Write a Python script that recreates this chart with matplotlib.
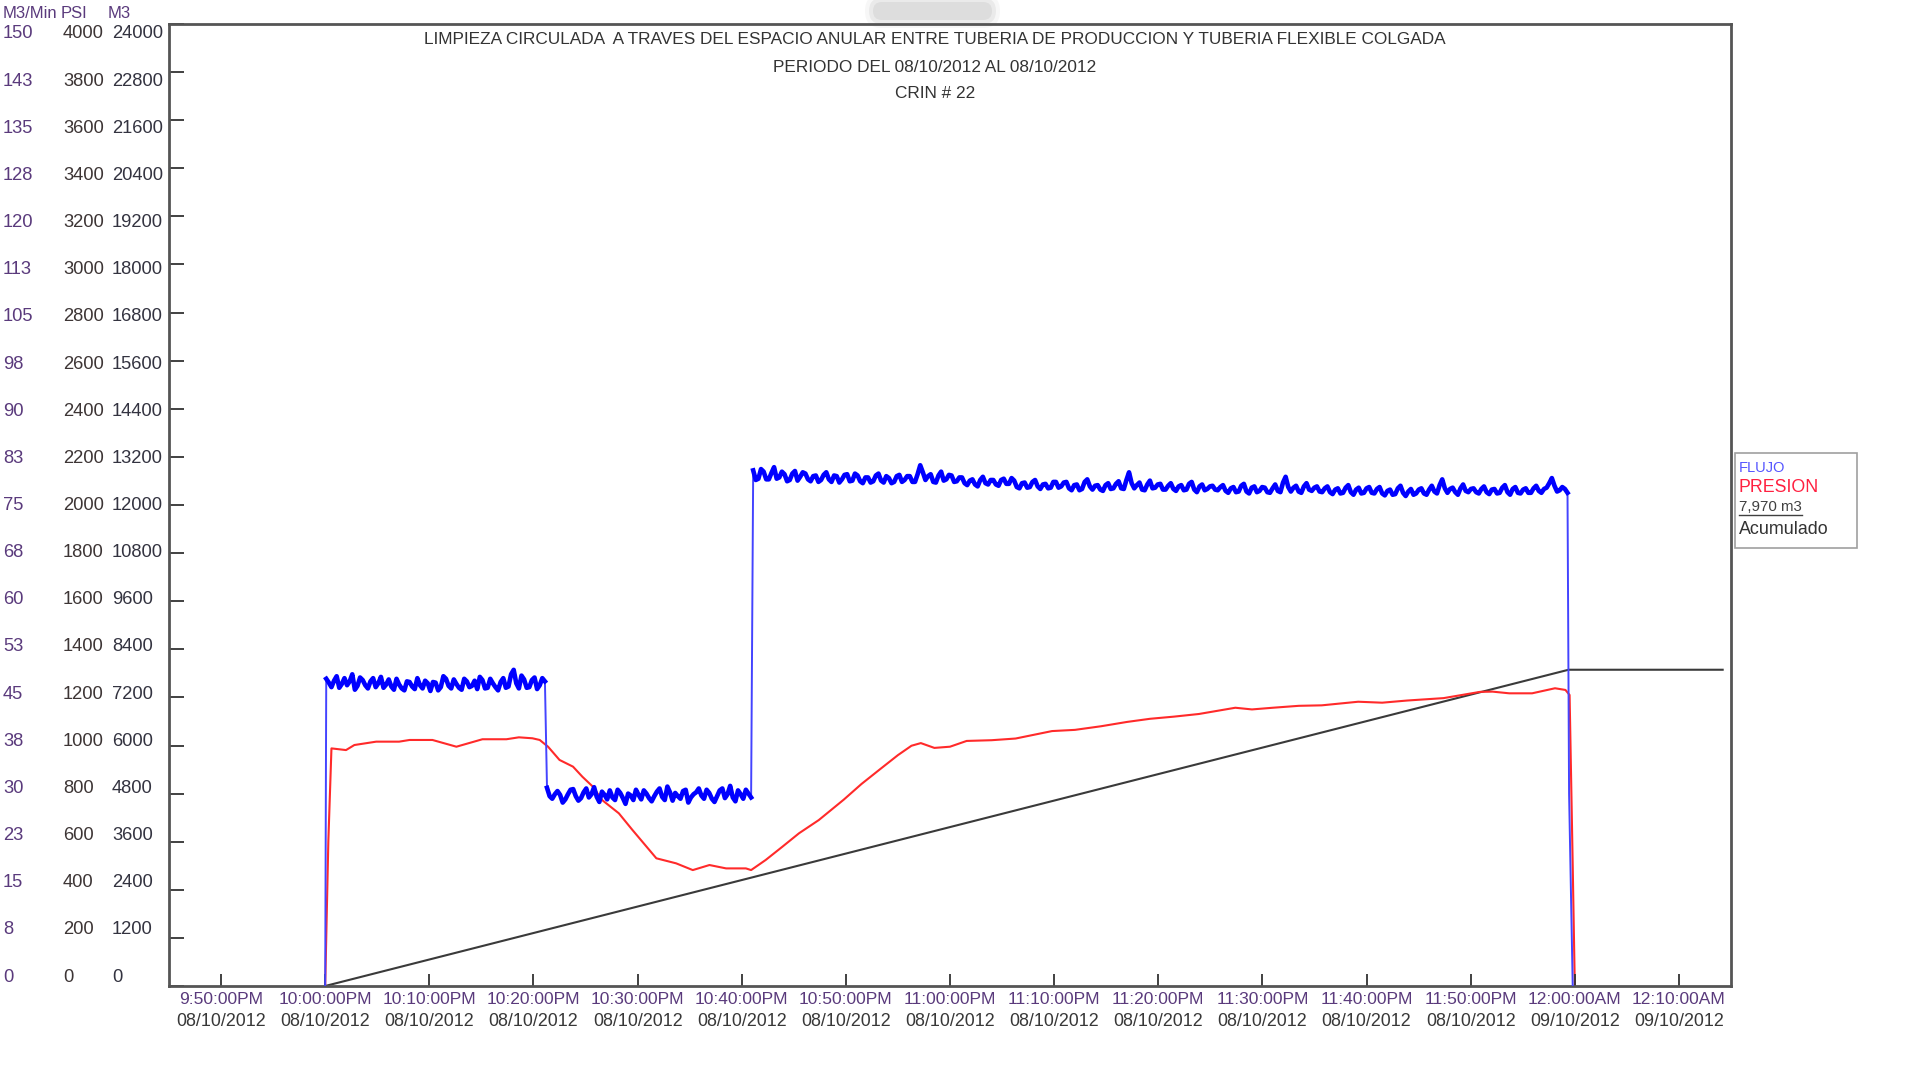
"""
Limpieza circulada - CRIN # 22: flujo, presion y volumen acumulado
"""
import numpy as np
import matplotlib
matplotlib.use('Agg')
import matplotlib.pyplot as plt
from matplotlib.patches import Rectangle, FancyBboxPatch
from matplotlib.lines import Line2D

plt.rcParams['font.family'] = ['Liberation Sans', 'DejaVu Sans']

# minutes after 10:00:00PM 08/10/2012
X_MIN = -15
X_MAX = 135

TITLE_LINES = ['LIMPIEZA CIRCULADA  A TRAVES DEL ESPACIO ANULAR ENTRE TUBERIA DE PRODUCCION Y TUBERIA FLEXIBLE COLGADA',
               'PERIODO DEL 08/10/2012 AL 08/10/2012',
               'CRIN # 22']

tick_minutes = [-10, 0, 10, 20, 30, 40, 50, 60, 70, 80, 90, 100, 110, 120, 130]
tick_times = ['9:50:00PM', '10:00:00PM', '10:10:00PM', '10:20:00PM', '10:30:00PM', '10:40:00PM',
              '10:50:00PM', '11:00:00PM', '11:10:00PM', '11:20:00PM', '11:30:00PM', '11:40:00PM',
              '11:50:00PM', '12:00:00AM', '12:10:00AM']
tick_dates = ['08/10/2012'] * 13 + ['09/10/2012'] * 2

flow_labels = ['0', '8', '15', '23', '30', '38', '45', '53', '60', '68', '75',
               '83', '90', '98', '105', '113', '120', '128', '135', '143', '150']
psi_labels = ['0', '200', '400', '600', '800', '1000', '1200', '1400', '1600', '1800', '2000',
              '2200', '2400', '2600', '2800', '3000', '3200', '3400', '3600', '3800', '4000']
m3_labels = ['0', '1200', '2400', '3600', '4800', '6000', '7200', '8400', '9600', '10800', '12000',
             '13200', '14400', '15600', '16800', '18000', '19200', '20400', '21600', '22800', '24000']

# FLUJO (M3/Min), read every 30 s on each plateau (+ the 15 s readings in between)
flow_seg1 = [47.9, 46.6, 48.3, 47.1, 46.9, 48.6, 46.8, 47.7, 46.4, 48.0, 47.2, 46.5, 47.8, 46.2,
             47.0, 46.1, 47.4, 46.3, 46.9, 47.6, 46.0, 47.3, 46.6, 47.9, 46.4, 47.1, 46.2, 47.5,
             46.8, 46.3, 47.7, 46.5, 47.2, 46.1, 48.0, 46.7, 49.3, 46.4, 47.8, 46.6, 48.1, 46.9, 47.5]
flow_seg1_mid = [47.3, 47.6, 46.5, 48.0, 47.5, 46.2, 48.1, 46.9, 47.5, 46.6, 48.2, 47.0, 46.7, 47.9,
                 46.4, 47.5, 46.7, 48.0, 46.4, 47.2, 47.4, 46.1, 48.3, 46.8, 47.8, 46.5, 47.9, 46.6,
                 47.6, 48.2, 46.4, 47.9, 46.6, 47.4, 46.5, 48.6, 47.2, 48.4, 46.5, 47.7, 46.3, 48.0]
flow_seg2 = [30.9, 29.2, 30.4, 28.6, 29.9, 30.7, 28.9, 30.2, 29.4, 31.0, 28.7, 29.8, 30.5, 29.0,
             30.1, 28.4, 29.7, 30.6, 29.1, 30.0, 28.8, 30.3, 29.5, 31.1, 28.9, 29.6, 30.4, 28.6,
             29.9, 30.8, 29.2, 30.1, 28.7, 30.5, 29.3, 31.2, 28.8, 29.9, 30.6, 29.4]
flow_seg2_mid = [29.6, 29.9, 29.8, 29.1, 30.6, 29.6, 29.3, 30.8, 29.9, 29.5, 30.3, 29.1, 29.4, 30.6,
                 29.3, 30.0, 29.0, 29.8, 30.5, 29.3, 29.6, 30.8, 29.0, 30.2, 30.1, 29.2, 30.6, 29.4,
                 30.2, 29.7, 30.6, 29.2, 29.6, 30.8, 29.9, 29.4, 30.5, 29.2, 30.0]
flow_seg3 = [80.4, 79.1, 80.2, 79.0, 80.9, 79.3, 79.8, 78.9, 80.3, 79.4,
             79.9, 78.7, 79.6, 78.9, 80.1, 78.6, 79.5, 79.0, 79.8, 78.8,
             79.6, 78.4, 79.3, 78.7, 79.9, 78.5, 79.2, 78.6, 79.7, 78.9,
             79.5, 78.6, 81.2, 78.9, 79.8, 78.5, 80.2, 79.0, 79.6, 78.7,
             79.3, 78.1, 79.0, 77.9, 79.4, 78.2, 78.9, 78.0, 79.1, 78.3,
             78.8, 77.6, 78.5, 77.8, 78.9, 77.5, 78.3, 77.7, 78.6, 77.9,
             78.6, 77.3, 78.2, 77.5, 79.0, 77.4, 78.1, 77.2, 78.4, 77.6,
             78.7, 77.5, 80.1, 77.6, 78.5, 77.3, 78.8, 77.7, 78.3, 77.4,
             78.4, 77.2, 78.1, 77.4, 78.6, 77.0, 78.2, 77.5, 78.0, 77.3,
             78.1, 76.9, 77.8, 77.1, 78.3, 76.8, 77.9, 77.2, 77.7, 76.9,
             78.2, 77.0, 79.4, 77.1, 78.0, 76.9, 78.4, 77.2, 77.9, 77.0,
             77.9, 76.7, 77.6, 76.9, 78.1, 76.6, 77.7, 76.9, 77.8, 76.8,
             77.8, 76.5, 77.4, 76.7, 78.0, 76.4, 77.5, 76.8, 77.6, 76.6,
             78.0, 76.8, 79.0, 76.9, 77.7, 76.6, 78.2, 77.0, 77.6, 76.8,
             77.9, 76.7, 77.5, 76.9, 78.1, 76.6, 77.8, 76.8, 77.6, 76.9,
             78.0, 76.9, 77.7, 79.2, 77.1, 77.8, 76.9]
flow_seg3_mid = [78.9, 80.6, 79.0, 80.0, 79.1, 80.2, 78.7, 79.9, 78.8, 80.1,
                 79.0, 79.5, 78.6, 79.7, 79.0, 79.6, 78.5, 79.7, 78.7, 79.9,
                 78.7, 79.3, 78.5, 79.6, 78.8, 79.5, 78.4, 79.5, 78.6, 79.5,
                 78.6, 79.8, 80.1, 79.5, 78.6, 79.6, 78.8, 79.7, 78.6, 79.3,
                 78.4, 78.8, 78.2, 78.9, 78.4, 78.9, 78.2, 78.9, 78.3, 79.2,
                 77.8, 78.4, 77.7, 78.6, 77.9, 78.2, 77.6, 78.6, 77.7, 78.5,
                 77.6, 78.1, 77.3, 78.6, 77.9, 78.0, 77.4, 78.1, 77.5, 78.3,
                 77.6, 78.9, 78.4, 78.1, 77.4, 78.2, 77.6, 78.2, 77.4, 78.0,
                 77.5, 77.9, 77.3, 78.3, 77.4, 77.9, 77.3, 77.9, 77.4, 77.8,
                 77.2, 77.6, 77.0, 78.0, 77.1, 77.7, 77.0, 77.8, 77.0, 77.6,
                 77.2, 78.5, 77.8, 77.7, 77.1, 77.9, 77.4, 77.7, 77.1, 77.6,
                 77.0, 77.4, 76.8, 77.7, 77.0, 77.4, 76.8, 77.6, 76.9, 77.5,
                 76.8, 77.2, 76.6, 77.6, 76.9, 77.1, 76.6, 77.4, 76.8, 77.4,
                 77.1, 78.1, 77.6, 77.5, 77.0, 77.6, 77.2, 77.5, 77.0, 77.5,
                 77.0, 77.4, 76.8, 77.7, 77.0, 77.5, 76.9, 77.4, 76.9, 77.6,
                 77.2, 77.5, 78.4, 78.0, 77.3, 77.5]
seg1_span = (0.1, 21.1)
seg2_span = (21.3, 40.9)
seg3_span = (41.1, 119.3)
flow_edges_t = [0.0, 119.45, 119.8]
flow_edges_v = [0.0, 30.0, 0.0]

# PRESION (PSI)
pres_t = [0.0, 0.3, 0.6, 2.0, 2.8, 4.9, 7.1, 8.1, 10.3, 12.6, 15.1, 17.4, 18.6, 19.9, 20.6,
          21.4, 22.5, 23.8, 24.7, 25.7, 26.6, 28.2, 29.5, 31.8, 33.7, 35.3, 36.9, 38.5, 40.4,
          40.9, 42.3, 43.9, 45.5, 47.4, 49.8, 51.5, 53.3, 55.0, 56.3, 57.2, 58.5, 60.0, 61.6,
          64.0, 66.3, 69.8, 72.0, 74.5, 77.0, 79.2, 81.5, 83.9, 87.4, 89.0, 91.0, 93.5, 95.7,
          99.2, 101.5, 103.9, 107.4, 110.9, 112.1, 113.7, 115.9, 118.1, 119.1, 119.5, 119.8, 120.0]
pres_v = [0, 600, 988, 981, 1002, 1016, 1016, 1023, 1023, 995, 1026, 1026, 1034, 1030, 1023,
          995, 940, 912, 870, 829, 773, 718, 649, 531, 510, 482, 503, 489, 489,
          482, 524, 579, 635, 690, 775, 840, 902, 960, 999, 1010, 990, 995, 1019,
          1022, 1029, 1060, 1065, 1080, 1098, 1111, 1120, 1131, 1157, 1150, 1157, 1165, 1167,
          1182, 1178, 1187, 1197, 1223, 1224, 1217, 1217, 1238, 1231, 1210, 500, 0]

# Acumulado (M3)
acum_t = [0.0, 119.4, 134.2]
acum_v = [0, 7890, 7890]


def fx(p):
    return p / 1920.0


def fy(p):
    return 1 - p / 1080.0


def plateau(span, seg, mid):
    # 30 s readings with the 15 s readings slotted in between
    vals = np.empty(2 * len(seg) - 1)
    vals[0::2] = seg
    vals[1::2] = mid[:len(seg) - 1]
    return np.linspace(span[0], span[1], len(vals)), vals


# ------------------- Building series: ----------------------------------------------
p1 = plateau(seg1_span, flow_seg1, flow_seg1_mid)
p2 = plateau(seg2_span, flow_seg2, flow_seg2_mid)
p3 = plateau(seg3_span, flow_seg3, flow_seg3_mid)
flow_t = np.concatenate([[flow_edges_t[0]], p1[0], p2[0], p3[0], flow_edges_t[1:]])
flow_v = np.concatenate([[flow_edges_v[0]], p1[1], p2[1], p3[1], flow_edges_v[1:]])

# ------------------- Plotting: -----------------------------------------------------
fig = plt.figure(figsize=(19.2, 10.8), dpi=100)
ax = fig.add_axes([fx(169), 1 - 986 / 1080.0, (1731 - 169) / 1920.0, (986 - 24) / 1080.0])
ax_psi = ax.twinx()
ax_m3 = ax.twinx()

ax_m3.plot(acum_t, acum_v, color='#3a3a3a', lw=1.5, zorder=2)
# thin verticals, thick noisy plateaus
ax.plot(flow_t, flow_v, color='#4444ff', lw=1.4, zorder=3)
for t, v in (p1, p2, p3):
    ax.plot(t, v, color='#0000ff', lw=3.3, zorder=3)
ax_psi.plot(pres_t, pres_v, color='#ff2a2a', lw=1.5, zorder=4)

ax.set_xlim(X_MIN, X_MAX)
ax.set_ylim(0, 150)
ax_psi.set_ylim(0, 4000)
ax_m3.set_ylim(0, 24000)
for a in (ax_psi, ax_m3):
    a.axis('off')
ax_m3.set_zorder(1)
ax_psi.set_zorder(2)
ax.set_zorder(3)
ax.patch.set_visible(False)

for s in ax.spines.values():
    s.set_color('#555555')
    s.set_linewidth(2)

ax.set_yticks(np.linspace(0, 150, 21))
ax.set_yticklabels([])
ax.set_xticks(tick_minutes)
ax.set_xticklabels([])
ax.tick_params(axis='y', direction='in', length=11, width=1.3, color='#333333')
ax.tick_params(axis='x', direction='in', length=9, width=1.3, color='#333333')

# y labels in three columns
fig.text(fx(3), fy(14), 'M3/Min', fontsize=12, color='#5a3a7c', va='center')
fig.text(fx(61), fy(14), 'PSI', fontsize=12, color='#5a3a7c', va='center')
fig.text(fx(108), fy(14), 'M3', fontsize=12, color='#5a3a7c', va='center')
for i in range(len(flow_labels)):
    yy = 977 - i * (977 - 34) / 20.0
    fig.text(fx(3), fy(yy), flow_labels[i], fontsize=13.2, color='#5a3a7c', va='center')
    fig.text(fx(63), fy(yy), psi_labels[i], fontsize=13.2, color='#3d3535', va='center')
    fig.text(fx(112), fy(yy), m3_labels[i], fontsize=13.2, color='#333340', va='center')

# x labels (time + date)
xt = ax.get_xaxis_transform()
for m, t, d in zip(tick_minutes, tick_times, tick_dates):
    ax.text(m, -13 / 962.0, t, transform=xt, ha='center', va='center', fontsize=12.5, color='#5a3a7c')
    ax.text(m, -35 / 962.0, d, transform=xt, ha='center', va='center', fontsize=12.9, color='#383838')

# titles
for line, yy in zip(TITLE_LINES, [39, 67, 94]):
    fig.text(fx(935), fy(yy), line, ha='center', va='center', fontsize=12.4, color='#333333')

# legend box
fig.add_artist(Rectangle((fx(1735), fy(548)), (1857 - 1735) / 1920.0, (548 - 453) / 1080.0,
                         transform=fig.transFigure, fill=False, edgecolor='#a0a0a0', lw=1.2))
fig.text(fx(1739), fy(468), 'FLUJO', fontsize=10.5, color='#5555ff', va='center')
fig.text(fx(1739), fy(488), 'PRESION', fontsize=12.8, color='#ff2040', va='center')
fig.text(fx(1739), fy(507), '7,970 m3', fontsize=10.8, color='#404040', va='center')
fig.add_artist(Line2D([fx(1739), fx(1802)], [fy(515), fy(515)], transform=fig.transFigure,
                      color='#404040', lw=1))
fig.text(fx(1739), fy(529), 'Acumulado', fontsize=12.9, color='#333333', va='center')

# blurred patch on top (drawn in inches)
for pad, a in [(0.1, 0.2), (0.06, 0.4), (0.02, 0.7)]:
    fig.add_artist(FancyBboxPatch((8.75, 10.62), 1.15, 0.14,
                                  boxstyle='round,pad=%f,rounding_size=%f' % (pad, 0.07 + pad),
                                  transform=fig.dpi_scale_trans, facecolor='#d8d8d8',
                                  edgecolor='none', alpha=a, zorder=-1))

fig.savefig('out.png', dpi=100, facecolor='white')
